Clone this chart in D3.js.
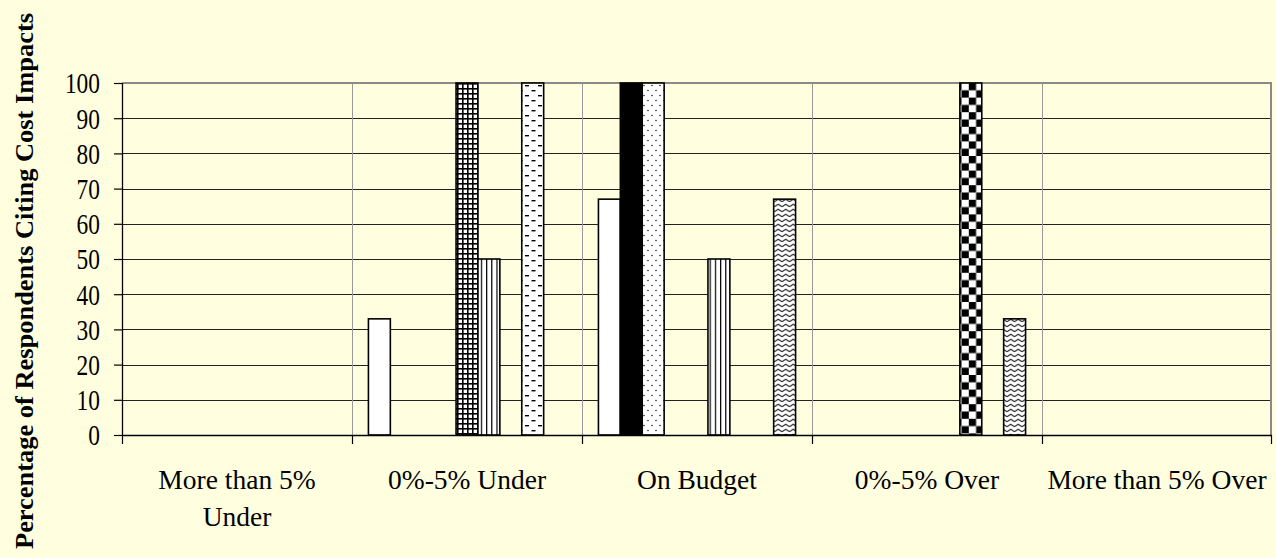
<!DOCTYPE html>
<html>
<head>
<meta charset="utf-8">
<script src="https://cdn.jsdelivr.net/npm/d3@7/dist/d3.min.js"></script>
<style>
html,body{margin:0;padding:0;background:#FFFFE0;}
svg{display:block;}
svg text{font-family:"Times New Roman","Liberation Serif",Tinos,"DejaVu Serif",serif !important;fill:#000;}
</style>
</head>
<body>
<svg id="chart" width="1276" height="558"></svg>
<script>
const categories = [["More than 5%","Under"],["0%-5% Under"],["On Budget"],["0%-5% Over"],["More than 5% Over"]];
const seriesNames = ["S1","S2","S3","S4","S5","S6","S7","S8","S9"];
const s1 = [0, 33, 67, 0, 0];
const s2 = [0, 0, 100, 0, 0];
const s3 = [0, 0, 100, 0, 0];
const s4 = [0, 0, 0, 0, 0];
const s5 = [0, 100, 0, 0, 0];
const s6 = [0, 50, 50, 0, 0];
const s7 = [0, 0, 0, 100, 0];
const s8 = [0, 100, 0, 0, 0];
const s9 = [0, 0, 67, 33, 0];
const seriesValues = [s1,s2,s3,s4,s5,s6,s7,s8,s9];
const yTicks = [0,10,20,30,40,50,60,70,80,90,100];
const yTitle = "Percentage of Respondents Citing Cost Impacts";
const fills = ["#fff","#000","url(#pDots)","url(#pGrey)","url(#pGrid)","url(#pVert)","url(#pCheck)","url(#pDash)","url(#pWave)"];

const svg = d3.select("#chart");
const W = 1276, H = 558;
const m = {left:122, right:4, top:83, bottom:123};
const pw = W - m.left - m.right, ph = H - m.top - m.bottom;
const FONT = '"Times New Roman","Liberation Serif",Tinos,"DejaVu Serif",serif';

// patterns
const defs = svg.append("defs");
let p = defs.append("pattern").attr("id","pDots").attr("patternUnits","userSpaceOnUse").attr("width",8).attr("height",10);
p.append("rect").attr("width",8).attr("height",10).attr("fill","#fff");
p.append("circle").attr("cx",2).attr("cy",2.5).attr("r",0.8).attr("fill","#222");
p.append("circle").attr("cx",6).attr("cy",7.5).attr("r",0.8).attr("fill","#222");

p = defs.append("pattern").attr("id","pGrey").attr("patternUnits","userSpaceOnUse").attr("width",4).attr("height",4);
p.append("rect").attr("width",4).attr("height",4).attr("fill","#bbb");

p = defs.append("pattern").attr("id","pGrid").attr("patternUnits","userSpaceOnUse").attr("width",5).attr("height",5);
p.append("rect").attr("width",5).attr("height",5).attr("fill","#fff");
p.append("rect").attr("width",5).attr("height",1.6).attr("fill","#000");
p.append("rect").attr("width",1.6).attr("height",5).attr("fill","#000");

p = defs.append("pattern").attr("id","pVert").attr("patternUnits","userSpaceOnUse").attr("width",5.2).attr("height",4);
p.append("rect").attr("width",5.2).attr("height",4).attr("fill","#fff");
p.append("rect").attr("x",0).attr("width",1.2).attr("height",4).attr("fill","#000");

p = defs.append("pattern").attr("id","pCheck").attr("patternUnits","userSpaceOnUse").attr("width",14.6).attr("height",14.6);
p.append("rect").attr("width",14.6).attr("height",14.6).attr("fill","#fff");
p.append("rect").attr("width",7.3).attr("height",7.3).attr("fill","#000");
p.append("rect").attr("x",7.3).attr("y",7.3).attr("width",7.3).attr("height",7.3).attr("fill","#000");

p = defs.append("pattern").attr("id","pDash").attr("patternUnits","userSpaceOnUse").attr("width",13).attr("height",10);
p.append("rect").attr("width",13).attr("height",10).attr("fill","#fff");
p.append("rect").attr("x",0).attr("y",2).attr("width",4).attr("height",1.4).attr("fill","#000");
p.append("rect").attr("x",6.5).attr("y",7).attr("width",4).attr("height",1.4).attr("fill","#000");

p = defs.append("pattern").attr("id","pWave").attr("patternUnits","userSpaceOnUse").attr("width",7.5).attr("height",5);
p.append("rect").attr("width",7.5).attr("height",5).attr("fill","#fff");
p.append("path").attr("d","M0,3.8 L3.75,1.2 L7.5,3.8").attr("fill","none").attr("stroke","#333").attr("stroke-width",1.2);

const g = svg.append("g").attr("transform",`translate(${m.left},${m.top})`);

const x0 = d3.scaleBand().domain(d3.range(categories.length)).range([0,pw]).padding(0);
const catW = x0.bandwidth();
const slotW = catW/(seriesNames.length+1.5);
const gap = catW - slotW*seriesNames.length;
const x1 = d3.scaleBand().domain(d3.range(seriesNames.length)).range([gap/2, catW-gap/2]).padding(0);
const y = d3.scaleLinear().domain([0,100]).range([ph,0]);

// horizontal gridlines
g.selectAll(".hg").data(yTicks.filter(t=>t>0 && t<100)).enter().append("line")
  .attr("x1",0).attr("x2",pw).attr("y1",d=>Math.round(y(d))+0.5).attr("y2",d=>Math.round(y(d))+0.5)
  .attr("stroke","#222").attr("stroke-width",1);
// vertical category gridlines
g.selectAll(".vg").data(d3.range(1,categories.length)).enter().append("line")
  .attr("x1",d=>Math.round(x0(d))+0.5).attr("x2",d=>Math.round(x0(d))+0.5).attr("y1",0).attr("y2",ph)
  .attr("stroke","#999").attr("stroke-width",1);
// plot border top / right
g.append("line").attr("x1",0).attr("x2",pw).attr("y1",0).attr("y2",0).attr("stroke","#8a8a8a").attr("stroke-width",2);
g.append("line").attr("x1",pw-1).attr("x2",pw-1).attr("y1",0).attr("y2",ph).attr("stroke","#8a8a8a").attr("stroke-width",2);

// bars
seriesValues.forEach((vals,si)=>{
  g.selectAll(".b"+si).data(vals.map((v,ci)=>({v,ci}))).enter().filter(d=>d.v>0).append("rect")
    .attr("x",d=>x0(d.ci)+x1(si))
    .attr("width",x1.bandwidth())
    .attr("y",d=>y(d.v))
    .attr("height",d=>y(0)-y(d.v))
    .attr("fill",fills[si])
    .attr("stroke","#000").attr("stroke-width",1.6);
});

// y axis
const yAxis = g.append("g").attr("font-family",FONT)
  .call(d3.axisLeft(y).tickValues(yTicks).tickSize(8).tickPadding(14).tickFormat(d3.format("d")));
yAxis.attr("font-family",FONT);
yAxis.select(".domain").attr("stroke","#000").attr("stroke-width",1.3).attr("d",`M0.5,0V${ph}`);
yAxis.selectAll(".tick line").attr("stroke","#000").attr("stroke-width",1.2);
yAxis.selectAll(".tick text").attr("font-size",29).attr("font-family",FONT)
  .attr("dy","0.34em")
  .each(function(d){ d3.select(this).attr("textLength",String(d).length*11.7).attr("lengthAdjust","spacingAndGlyphs"); });

// x axis
const xg = g.append("g").attr("transform",`translate(0,${ph})`);
xg.append("line").attr("x1",0).attr("x2",pw).attr("y1",0.5).attr("y2",0.5).attr("stroke","#000").attr("stroke-width",1.6);
xg.selectAll(".xt").data(d3.range(categories.length+1)).enter().append("line")
  .attr("x1",d=>d<categories.length?Math.round(x0(d))+0.5:pw-0.5)
  .attr("x2",d=>d<categories.length?Math.round(x0(d))+0.5:pw-0.5)
  .attr("y1",0).attr("y2",9).attr("stroke","#000").attr("stroke-width",1.2);
const xl = xg.selectAll(".xl").data(categories).enter().append("text")
  .attr("text-anchor","middle").attr("font-size",27.5).attr("font-family",FONT)
  .attr("transform",(d,i)=>`translate(${x0(i)+catW/2},0)`);
xl.selectAll("tspan").data(d=>d).enter().append("tspan")
  .attr("x",0).attr("y",(d,i)=>54+i*37).text(d=>d);

// y title
svg.append("text").attr("transform","translate(33,281) rotate(-90)")
  .attr("text-anchor","middle").attr("font-size",26).attr("font-weight","bold").attr("font-family",FONT)
  .attr("textLength",536).attr("lengthAdjust","spacingAndGlyphs")
  .text(yTitle);
</script>
</body>
</html>
